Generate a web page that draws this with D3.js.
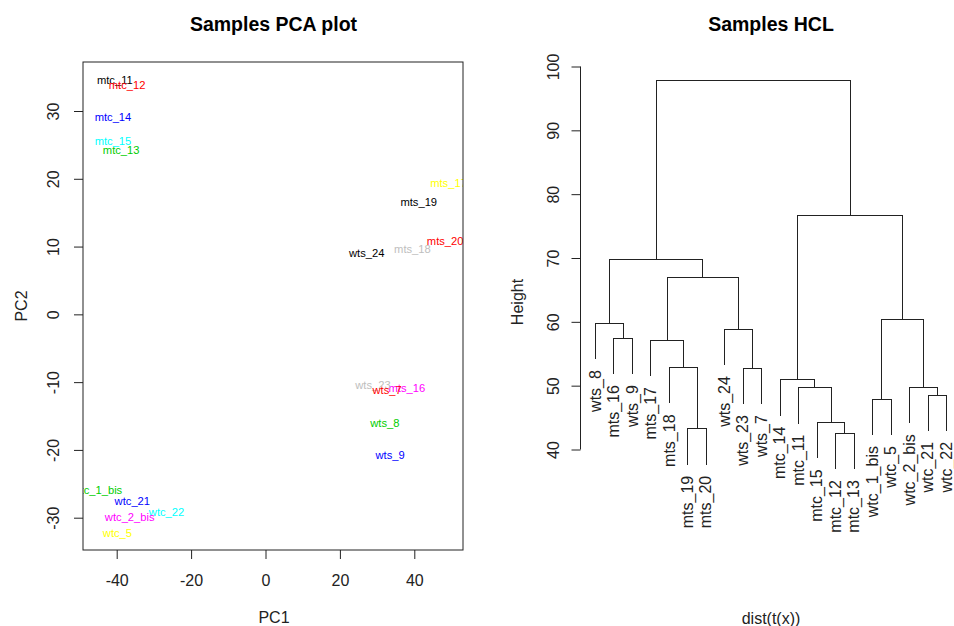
<!DOCTYPE html>
<html>
<head>
<meta charset="utf-8">
<script src="https://cdn.jsdelivr.net/npm/d3@7"></script>
<style>
  html, body { margin: 0; padding: 0; background: #fff; }
  svg { display: block; }
  text { font-family: "Liberation Sans", Arial, sans-serif; fill: #222; }
</style>
</head>
<body>
<svg id="chart" width="954" height="626"></svg>
<script>
// ---------- PCA data ----------
const pcaSamples = ["mtc_11","mtc_12","mtc_13","mtc_14","mtc_15",
  "mts_16","mts_17","mts_18","mts_19","mts_20",
  "wtc_21","wtc_22","wts_23","wts_24",
  "wtc_1_bis","wtc_2_bis","wtc_5","wts_7","wts_8","wts_9"];
const pc1 = [-40.5,-37.2,-38.8,-41.0,-41.0,
  38.0,49.2,39.5,41.2,48.3,
  -35.8,-26.6,28.9,27.2,
  -45.2,-36.5,-39.8,32.7,32.1,33.5];
const pc2 = [34.6,33.8,24.3,29.1,25.5,
  -10.9,19.3,9.7,16.5,10.8,
  -27.6,-29.2,-10.4,9.0,
  -25.9,-29.9,-32.2,-11.2,-16.1,-20.8];
const pcaColors = ["#000000","#FF0000","#00CD00","#0000FF","#00FFFF",
  "#FF00FF","#FFFF00","#BEBEBE","#000000","#FF0000",
  "#0000FF","#00FFFF","#BEBEBE","#000000",
  "#00CD00","#FF00FF","#FFFF00","#FF0000","#00CD00","#0000FF"];
const pcaXTicks = [-40,-20,0,20,40];
const pcaYTicks = [-30,-20,-10,0,10,20,30];

// ---------- HCL data (R hclust convention: negative = leaf index, positive = merge index) ----------
const leafLabels = ["wts_8","mts_16","wts_9","mts_17","mts_18","mts_19","mts_20",
  "wts_24","wts_23","wts_7","mtc_14","mtc_11","mtc_15","mtc_12","mtc_13",
  "wtc_1_bis","wtc_5","wtc_2_bis","wtc_21","wtc_22"];
const mergeLeft   = [-14, -6, -13, -16, -19, -12, -18, -11, -9, -5, -2, -4, -8, -1, 4, 12, 14, 8, 17];
const mergeRight  = [-15, -7,   1, -17, -20,   3,   5,   6, -10, 2, -3, 10,  9, 11, 7, 13, 16, 15, 18];
const mergeHeight = [42.6,43.3,44.3,47.95,48.6,49.75,49.8,51.0,52.8,52.9,57.5,57.2,58.9,59.85,60.4,67.1,69.9,76.7,97.9];
const hclYTicks = [40,50,60,70,80,90,100];

const svg = d3.select("#chart");
const ink = "#222";

// ================= PCA panel =================
const box = {left: 83, right: 463, top: 62, bottom: 550};
const xPca = d3.scaleLinear().domain([-40, 40]).range([116.7, 414.3]);
const yPca = d3.scaleLinear().domain([-30, 30]).range([517.7, 111]);

svg.append("defs").append("clipPath").attr("id", "pcaClip")
  .append("rect").attr("x", box.left).attr("y", box.top)
  .attr("width", box.right - box.left).attr("height", box.bottom - box.top);

const pcaG = svg.append("g");
pcaG.append("g").attr("clip-path", "url(#pcaClip)")
  .selectAll("text").data(pcaSamples).join("text")
  .attr("x", (d, i) => xPca(pc1[i]))
  .attr("y", (d, i) => yPca(pc2[i]))
  .attr("dy", "0.35em")
  .attr("text-anchor", "middle")
  .style("font-size", "11.2px")
  .style("fill", (d, i) => pcaColors[i])
  .text(d => d);

pcaG.append("rect")
  .attr("x", box.left).attr("y", box.top)
  .attr("width", box.right - box.left).attr("height", box.bottom - box.top)
  .attr("fill", "none").attr("stroke", ink).attr("stroke-width", 1);

const xAxisP = pcaG.append("g").attr("transform", `translate(0,${box.bottom})`)
  .call(d3.axisBottom(xPca).tickValues(pcaXTicks).tickSize(9).tickSizeOuter(0).tickFormat(d3.format("d")));
xAxisP.select(".domain").remove();
xAxisP.selectAll("line").attr("stroke", ink);
xAxisP.selectAll("text").attr("y", 30).attr("dy", "0.35em").style("font-size", "16px").style("fill", ink)
  .text(d => d < 0 ? "-" + Math.abs(d) : d);

const yAxisP = pcaG.append("g").attr("transform", `translate(${box.left},0)`)
  .call(d3.axisLeft(yPca).tickValues(pcaYTicks).tickSize(9).tickSizeOuter(0));
yAxisP.select(".domain").remove();
yAxisP.selectAll("line").attr("stroke", ink);
yAxisP.selectAll("text")
  .attr("x", 0).attr("y", 0).attr("dy", "0.35em")
  .attr("text-anchor", "middle")
  .attr("transform", "translate(-30,0) rotate(-90)")
  .style("font-size", "16px").style("fill", ink)
  .text(d => d < 0 ? "-" + Math.abs(d) : d);

svg.append("text").attr("x", 273.5).attr("y", 31).attr("text-anchor", "middle")
  .style("font-size", "19.5px").style("font-weight", "bold").style("fill", "#000")
  .text("Samples PCA plot");
svg.append("text").attr("x", 274).attr("y", 617).attr("dy", "0.35em").attr("text-anchor", "middle")
  .style("font-size", "16px").text("PC1");
svg.append("text").attr("transform", "translate(21,306) rotate(-90)").attr("dy", "0.35em")
  .attr("text-anchor", "middle").style("font-size", "16px").text("PC2");

// ================= HCL panel =================
const xHcl = d3.scaleLinear().domain([1, leafLabels.length]).range([595, 946]);
const yHcl = d3.scaleLinear().domain([40, 100]).range([449.5, 66.5]);
const axisX = 580.5;

const hang = 0.1 * (d3.max(mergeHeight) - d3.min(mergeHeight));
const mergeX = [];
// leaf end heights: parent height - hang
const leafEndH = new Array(leafLabels.length);
function nodeX(ref) { return ref < 0 ? xHcl(-ref) : mergeX[ref - 1]; }
for (let k = 0; k < mergeHeight.length; k++) {
  mergeX[k] = (nodeX(mergeLeft[k]) + nodeX(mergeRight[k])) / 2;
  [mergeLeft[k], mergeRight[k]].forEach(r => { if (r < 0) leafEndH[-r - 1] = mergeHeight[k] - hang; });
}
function nodeH(ref) { return ref < 0 ? leafEndH[-ref - 1] : mergeHeight[ref - 1]; }

const segs = [];
for (let k = 0; k < mergeHeight.length; k++) {
  const h = mergeHeight[k];
  const xl = nodeX(mergeLeft[k]), xr = nodeX(mergeRight[k]);
  segs.push([xl, yHcl(nodeH(mergeLeft[k])), xl, yHcl(h)]);
  segs.push([xl, yHcl(h), xr, yHcl(h)]);
  segs.push([xr, yHcl(h), xr, yHcl(nodeH(mergeRight[k]))]);
}
const hclG = svg.append("g");
hclG.append("g").selectAll("line").data(segs).join("line")
  .attr("x1", d => Math.round(d[0]) + 0.5).attr("y1", d => Math.round(d[1]) + 0.5)
  .attr("x2", d => Math.round(d[2]) + 0.5).attr("y2", d => Math.round(d[3]) + 0.5)
  .attr("stroke", ink).attr("stroke-width", 1).attr("stroke-linecap", "square");

hclG.append("g").selectAll("text").data(leafLabels).join("text")
  .attr("transform", (d, i) => `translate(${xHcl(i + 1)},${yHcl(leafEndH[i]) + 12}) rotate(-90)`)
  .attr("dy", "0.35em").attr("text-anchor", "end")
  .style("font-size", "16px").style("fill", ink)
  .text(d => d);

const yAxisH = hclG.append("g").attr("transform", `translate(${axisX},0)`)
  .call(d3.axisLeft(yHcl).tickValues(hclYTicks).tickSize(9).tickSizeOuter(0));
yAxisH.select(".domain").attr("d", `M0,${yHcl(40)}V${yHcl(100)}`).attr("stroke", ink);
yAxisH.selectAll("line").attr("stroke", ink);
yAxisH.selectAll("text")
  .attr("x", 0).attr("y", 0).attr("dy", "0.35em")
  .attr("text-anchor", "middle")
  .attr("transform", "translate(-27,0) rotate(-90)")
  .style("font-size", "16px").style("fill", ink);

svg.append("text").attr("x", 771).attr("y", 31).attr("text-anchor", "middle")
  .style("font-size", "19.5px").style("font-weight", "bold").style("fill", "#000")
  .text("Samples HCL");
svg.append("text").attr("x", 771).attr("y", 618).attr("dy", "0.35em").attr("text-anchor", "middle")
  .style("font-size", "16px").text("dist(t(x))");
svg.append("text").attr("transform", "translate(517,302) rotate(-90)").attr("dy", "0.35em")
  .attr("text-anchor", "middle").style("font-size", "16px").text("Height");
</script>
</body>
</html>
